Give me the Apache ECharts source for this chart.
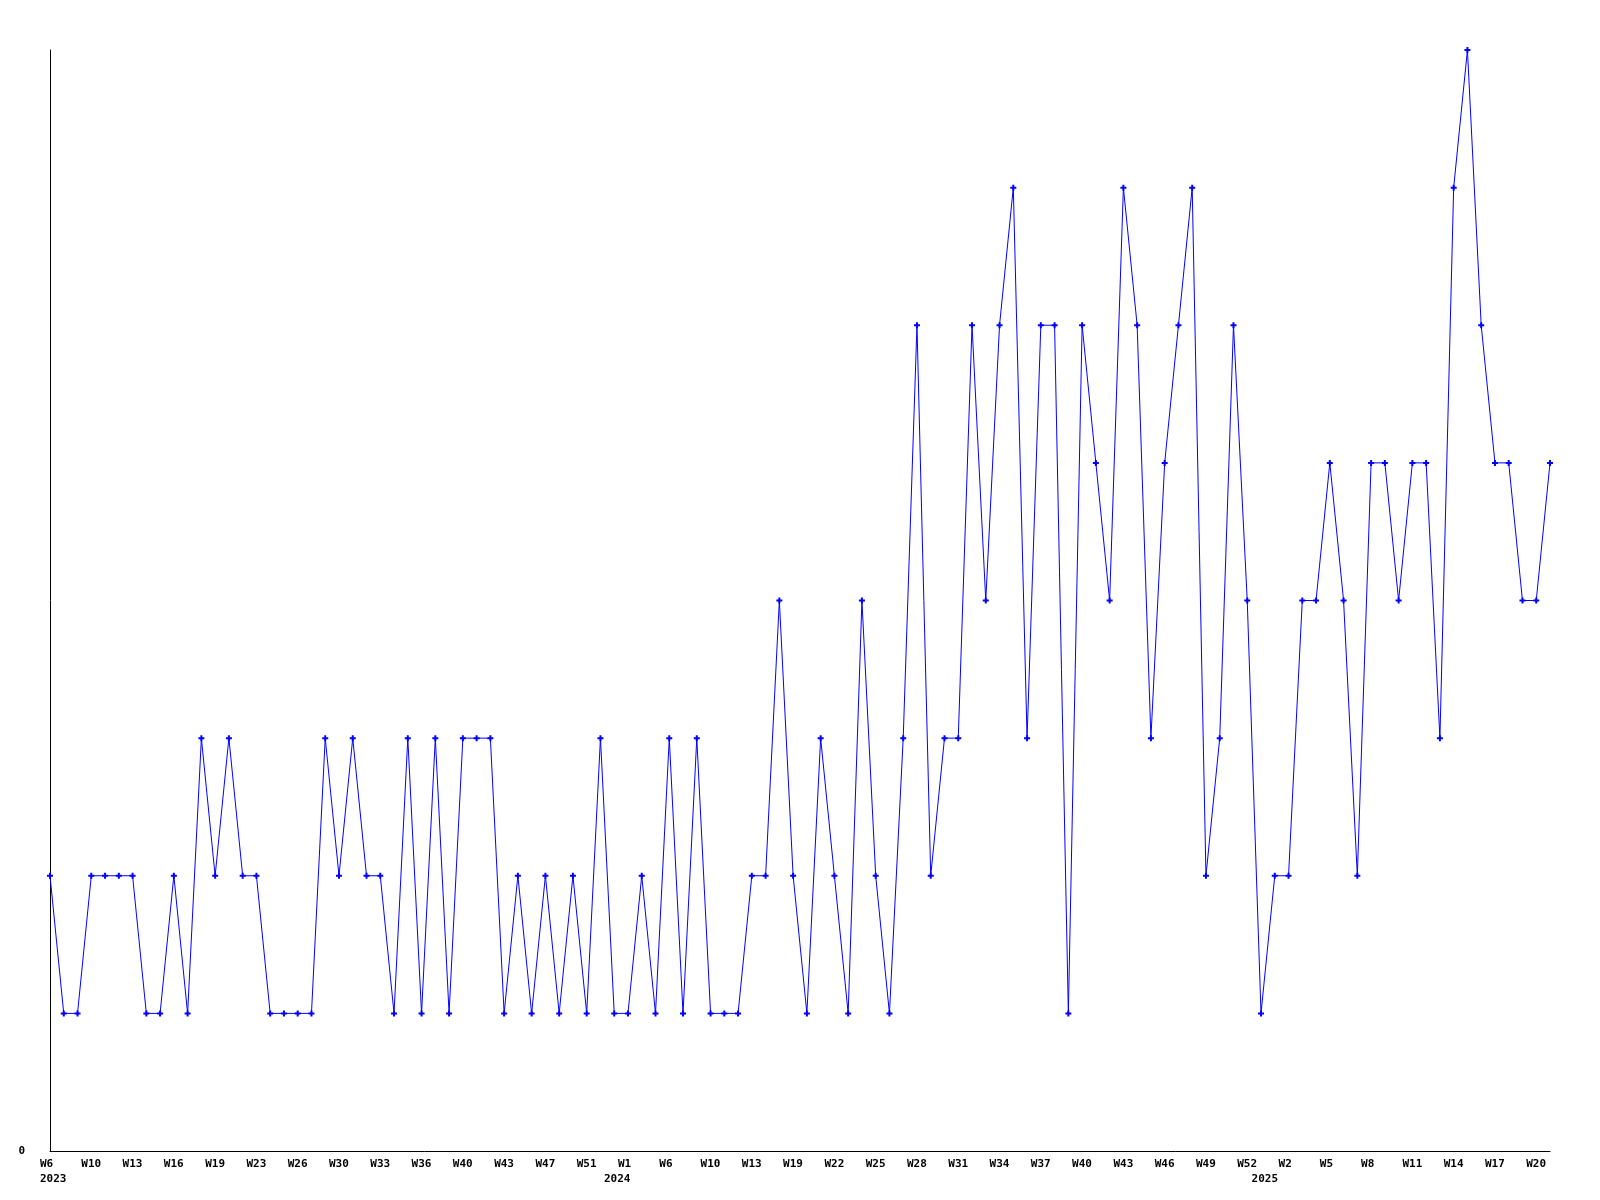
<!DOCTYPE html>
<html>
<head>
<meta charset="utf-8">
<script src="https://cdn.jsdelivr.net/npm/echarts@6/dist/echarts.min.js"></script>
<style>
html,body{margin:0;padding:0;background:#fff;}
#chart{width:1600px;height:1200px;}
</style>
</head>
<body>
<div id="chart"></div>
<script>
// Weekly values, 110 points from 2023 W6
const values = [
  2,1,1,2,2,2,2,1,1,2,1,3,2,3,2,2,1,1,1,1,3,2,3,2,2,1,3,1,3,1,3,3,3,1,2,1,2,
  1,2,1,3,1,1,2,1,3,1,3,1,1,1,2,2,4,2,1,3,2,1,4,2,1,3,6,2,3,3,6,4,6,7,3,6,
  6,1,6,5,4,7,6,3,5,6,7,2,3,6,4,1,2,2,4,4,5,4,2,5,5,4,5,5,3,7,8,6,5,5,4,4,5
];
// Tick labels shown every third point
const tickLabels = ['W6','W10','W13','W16','W19','W23','W26','W30','W33','W36','W40','W43',
  'W47','W51','W1','W6','W10','W13','W19','W22','W25','W28','W31','W34','W37','W40','W43',
  'W46','W49','W52','W2','W5','W8','W11','W14','W17','W20'];
const yearLabelIndex = [0, 14, 30];
const yearLabelText = ['2023', '2024', '2025'];
const yearRichStyle = ['y0', 'y1', 'y2'];
const yMin = 0, yMax = 8;

const categories = values.map((v, i) => String(i));

const font = '"DejaVu Sans Mono", monospace';
const base = {fontFamily: font, fontWeight: 'bold', fontSize: 11, color: '#000', lineHeight: 15};
const chart = echarts.init(document.getElementById('chart'), null, {renderer: 'canvas'});
chart.setOption({
  backgroundColor: '#ffffff',
  animation: false,
  grid: {left: 50, right: 50, top: 50, bottom: 49, containLabel: false},
  xAxis: {
    type: 'category',
    data: categories,
    boundaryGap: false,
    axisLine: {show: true, lineStyle: {color: '#000', width: 1}},
    axisTick: {show: false},
    splitLine: {show: false},
    axisLabel: {
      interval: 2,
      margin: 6,
      align: 'left',
      color: '#000',
      fontFamily: font,
      fontWeight: 'bold',
      fontSize: 11,
      lineHeight: 15,
      formatter: function (val, idx) {
        const li = Math.round(idx / 3);
        let s = '{w|' + (tickLabels[li] || '') + '}';
        const yi = yearLabelIndex.indexOf(li);
        if (yi >= 0) s += '\n{' + yearRichStyle[yi] + '|' + yearLabelText[yi] + '}';
        return s;
      },
      rich: {
        w: Object.assign({}, base, {padding: [0, 0, 0, -10]}),
        y0: Object.assign({}, base, {padding: [0, 0, 0, -10]}),
        y1: Object.assign({}, base, {padding: [0, 0, 0, -24]}),
        y2: Object.assign({}, base, {padding: [0, 0, 0, -37]})
      }
    }
  },
  yAxis: {
    type: 'value',
    min: yMin,
    max: yMax,
    interval: 8,
    axisLine: {show: true, lineStyle: {color: '#000', width: 1}},
    axisTick: {show: false},
    splitLine: {show: false},
    axisLabel: {
      margin: 25,
      color: '#000',
      fontFamily: font,
      fontWeight: 'bold',
      fontSize: 11,
      formatter: function (v) { return v === 0 ? '0' : ''; }
    }
  },
  series: [{
    type: 'line',
    data: values,
    lineStyle: {color: '#0000ff', width: 1},
    itemStyle: {color: '#0000ff'},
    symbol: 'path://M2,0H4V2H6V4H4V6H2V4H0V2H2Z',
    symbolSize: 6,
    showSymbol: true,
    z: 3
  }]
});
</script>
</body>
</html>
